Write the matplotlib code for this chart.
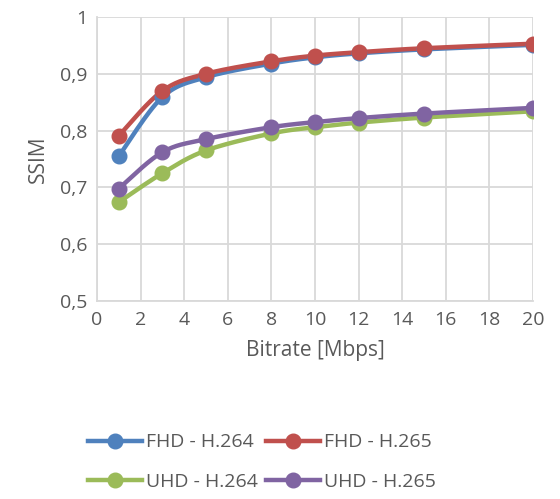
import matplotlib
matplotlib.use("Agg")
from matplotlib import pyplot as plt
from matplotlib.ticker import FuncFormatter
import numpy as np

bitrate = [1, 3, 5, 8, 10, 12, 15, 20]
fhd_264 = [0.755, 0.859, 0.894, 0.918, 0.929, 0.936, 0.943, 0.951]
fhd_265 = [0.791, 0.870, 0.900, 0.922, 0.932, 0.938, 0.945, 0.953]
uhd_264 = [0.674, 0.725, 0.765, 0.795, 0.806, 0.814, 0.823, 0.834]
uhd_265 = [0.698, 0.762, 0.785, 0.806, 0.815, 0.822, 0.830, 0.840]

labels = ['FHD - H.264', 'FHD - H.265', 'UHD - H.264', 'UHD - H.265']
colors = ['#4f81bd', '#c0504d', '#9bbb59', '#8064a2']

plt.rcParams['font.family'] = ['Open Sans', 'DejaVu Sans']
txt = '#595959'
grid = '#d9d9d9'

xlim = (0, 20)
ylim = (0.5, 1.0)


def smooth(xs, ys, n=30):
    # bezier smoothing like a spreadsheet "smoothed line", done in axis units
    px = (np.asarray(xs, float) - xlim[0]) / (xlim[1] - xlim[0]) * 436
    py = (np.asarray(ys, float) - ylim[0]) / (ylim[1] - ylim[0]) * 284
    P = np.stack([px, py], axis=1)
    out = []
    for i in range(len(P) - 1):
        p0 = P[i - 1] if i > 0 else P[i]
        p1, p2 = P[i], P[i + 1]
        p3 = P[i + 2] if i + 2 < len(P) else P[i + 1]
        c1 = p1 + (p2 - p0) / 6
        c2 = p2 - (p3 - p1) / 6
        t = np.linspace(0, 1, n)[:, None]
        seg = ((1 - t) ** 3) * p1 + 3 * ((1 - t) ** 2) * t * c1 + 3 * (1 - t) * t ** 2 * c2 + t ** 3 * p2
        out.append(seg if i == 0 else seg[1:])
    out = np.vstack(out)
    sx = out[:, 0] / 436 * (xlim[1] - xlim[0]) + xlim[0]
    sy = out[:, 1] / 284 * (ylim[1] - ylim[0]) + ylim[0]
    return sx, sy


fig = plt.figure(figsize=(5.6, 4.99), dpi=100)
ax = fig.add_axes([97 / 560, 1 - 301 / 499, 436 / 560, 284 / 499])

handles = []
for ys, lab, col in zip([fhd_264, fhd_265, uhd_264, uhd_265], labels, colors):
    sx, sy = smooth(bitrate, ys)
    ax.plot(sx, sy, color=col, lw=3.2, solid_capstyle='round', zorder=3)
    ax.plot(bitrate, ys, 'o', color=col, ms=10.5, zorder=4)
    h, = ax.plot([], [], color=col, lw=3.2, marker='o', ms=10.5, label=lab)
    handles.append(h)

ax.set_xlim(*xlim)
ax.set_ylim(*ylim)
ax.set_xticks(np.arange(0, 21, 2))
ax.set_yticks(np.arange(0.5, 1.01, 0.1))
ax.yaxis.set_major_formatter(FuncFormatter(lambda v, p: ('%g' % round(v, 1)).replace('.', ',')))
ax.grid(True, color=grid, lw=1.3, zorder=0)
for s in ['top', 'right']:
    ax.spines[s].set_visible(False)
for s in ['left', 'bottom']:
    ax.spines[s].set_color(grid)
    ax.spines[s].set_linewidth(1.3)
ax.tick_params(length=0, labelsize=14, colors=txt, pad=7)
ax.set_xlabel('Bitrate [Mbps]', fontsize=15, color=txt, labelpad=8)
ax.set_ylabel('SSIM', fontsize=15, color=txt, labelpad=8)

# row-wise order: FHD pair on top row, UHD pair on bottom row
order = [0, 2, 1, 3]
fig.legend([handles[i] for i in order], [labels[i] for i in order],
           loc='center', bbox_to_anchor=(262 / 560, 1 - 462 / 499), ncol=2, frameon=False,
           fontsize=14, labelcolor=txt, handlelength=2.8, columnspacing=0.4,
           handletextpad=0.2, labelspacing=1.1)

fig.savefig('out.png', dpi=100)
